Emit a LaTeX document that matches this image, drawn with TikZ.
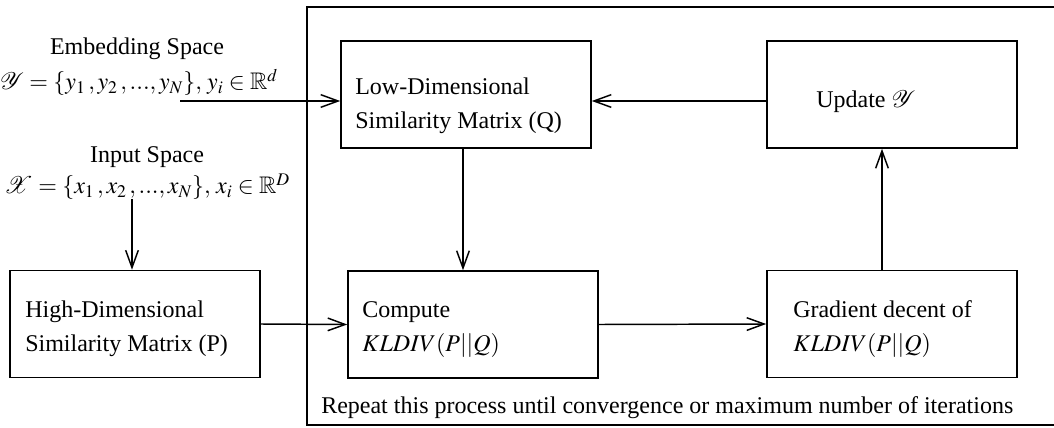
\documentclass[tikz,border=0pt]{standalone}
\usepackage{amssymb}
\usepackage{mathptmx}
\usepackage[no-math]{fontspec}
\setmainfont{Liberation Serif}
\usepackage{tikz}
\usetikzlibrary{arrows.meta}

\tikzset{
  box/.style={draw, line width=1.2pt, minimum width=187.5pt, minimum height=80.25pt, inner sep=0pt},
  txt/.style={inner sep=0pt, align=left, font=\fontsize{18}{25.5}\selectfont},
  arr/.style={line width=1.1pt, -{Straight Barb[length=13pt,width=9.5pt,line width=1.1pt]}}
}

\begin{document}
\begin{tikzpicture}[x=0.75pt, y=-0.75pt]

\useasboundingbox (0,0) rectangle (1054,428);

% outer loop frame
\draw[line width=1.2pt] (1056,7) -| (307,425) -- (1056,425);

\node[box] (low)  at (466,94.5) {};
\node[box] (upd)  at (892,94.5) {};
\node[box] (high) at (135,324) {};
\node[box] (comp) at (473,324.5) {};
\node[box] (grad) at (892,324) {};

% two-line texts sit on the baseline of their last line
\node[txt, anchor=base west] (lowtxt)  at (355,128) {Low-Dimensional\\Similarity Matrix (Q)};
\node[txt, anchor=base west] (updtxt)  at (816,108) {Update $\mathcal{Y}$};
\node[txt, anchor=base west] (hightxt) at (25,351)  {High-Dimensional\\Similarity Matrix (P)};
\node[txt, anchor=base west] (comptxt) at (362,351) {Compute\\$KLDIV(P||Q)$};
\node[txt, anchor=base west] (gradtxt) at (793,351) {Gradient decent of\\$KLDIV(P||Q)$};

\node[txt, anchor=base] (emb) at (137,55) {Embedding Space};
\node[txt, anchor=base] (embset) at (139,90) {$\mathcal{Y}=\{y_1\,,y_2\,,...,y_N\},\,y_i\in\mathbb{R}^d$};
\node[txt, anchor=base] (inp) at (147,162) {Input Space};
\node[txt, anchor=base] (inpset) at (147,194) {$\mathcal{X}=\{x_1\,,x_2\,,...,x_N\},\,x_i\in\mathbb{R}^D$};

\node[txt, anchor=base west] (rep) at (321,413) {Repeat this process until convergence or maximum number of iterations};

\coordinate (ystart) at (180,101);
\coordinate (xstart) at (132,199);
\coordinate (qx) at (463,0);
\coordinate (gx) at (882,0);

\draw[arr] (ystart) -- (ystart -| low.west);
\draw[arr] (upd.west |- ystart) -- (low.east |- ystart);
\draw[arr] (low.south -| qx) -- (comp.north -| qx);
\draw[arr] (xstart) -- (xstart |- high.north);
\draw[arr] (high.east) -- (comp.west);
\draw[arr] (comp.east) -- (grad.west);
\draw[arr] (grad.north -| gx) -- (upd.south -| gx);

\end{tikzpicture}
\end{document}
